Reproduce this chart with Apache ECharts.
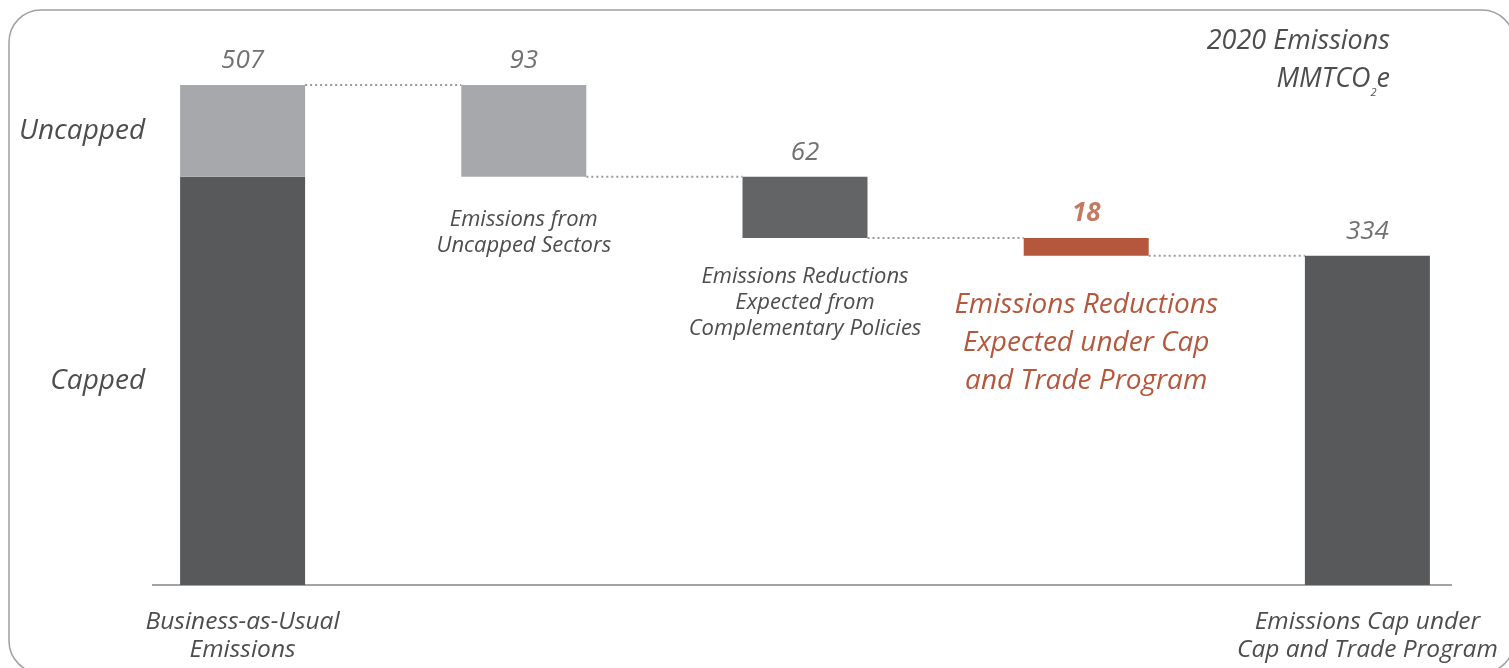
<!DOCTYPE html>
<html>
<head>
<meta charset="utf-8">
<script src="https://cdn.jsdelivr.net/npm/echarts@6/dist/echarts.min.js"></script>
<style>
html,body{margin:0;padding:0;background:#fff;}
#c{width:1509px;height:668px;}
</style>
</head>
<body>
<div id="c"></div>
<script>
var categories = ['Business-as-Usual\nEmissions', 'Emissions from\nUncapped Sectors', 'Emissions Reductions\nExpected from\nComplementary Policies', 'Emissions Reductions\nExpected under Cap\nand Trade Program', 'Emissions Cap under\nCap and Trade Program'];
var baseValues = [0, 414, 352, 334, 0];
var cappedValues = [414, '-', '-', '-', 334];
var uncappedValues = [93, 93, '-', '-', '-'];
var reductionValues = ['-', '-', 62, 18, '-'];
var valueLabels = ['507', '93', '62', '18', '334'];
var barTops = [507, 507, 414, 352, 334];
var connectorLevels = [507, 414, 352, 334];

var FONT = '"Open Sans", Lato, sans-serif';
var TXT = '#4d4d4f';
var DARK = '#58595b';
var DARK2 = '#636466';
var LIGHT = '#a7a8ab';
var RED = '#b5573c';

var chart = echarts.init(document.getElementById('c'));

var option = {
  animation: false,
  backgroundColor: '#fff',
  grid: {left: 102, right: 1, top: 52.5, bottom: 83},
  xAxis: {
    type: 'category',
    data: categories,
    axisLine: {show: false},
    axisTick: {show: false},
    axisLabel: {
      interval: 0,
      margin: 23,
      fontFamily: FONT, fontStyle: 'italic', fontSize: 24.5, lineHeight: 28, color: TXT,
      formatter: function (v, i) { return (i === 0 || i === 4) ? v : ''; }
    }
  },
  yAxis: {
    type: 'value', min: 0, max: 540,
    show: false,
    splitLine: {show: false}
  },
  graphic: [
    {type: 'rect', shape: {x: 9, y: 10, width: 1505, height: 663, r: 32}, style: {fill: 'none', stroke: '#a0a0a0', lineWidth: 1.5}, z: 0},
    {type: 'line', shape: {x1: 152, y1: 585, x2: 1452, y2: 585}, style: {stroke: '#a3a3a3', lineWidth: 2}, z: 1},
    {type: 'text', x: 1390, y: 22, z: 10,
      style: {
        text: '2020 Emissions\nMMTCO{s|2}e',
        align: 'right',
        verticalAlign: 'top',
        font: 'italic 27px ' + FONT,
        fill: TXT,
        lineHeight: 38,
        rich: {s: {fontSize: 11, fontStyle: 'italic', fontFamily: FONT, fill: TXT, verticalAlign: 'bottom', lineHeight: 38, padding: [3, 0, 0, 0]}}
      }
    }
  ],
  series: [
    {
      name: 'base', type: 'bar', stack: 'w', barWidth: 125,
      itemStyle: {color: 'transparent'},
      data: baseValues.map(function (v, i) {
        var d = {value: v};
        if (i === 1 || i === 2) {
          d.label = {show: true, position: 'insideTop', distance: i === 1 ? 30 : 26,
            formatter: categories[i], fontFamily: FONT, fontStyle: 'italic', fontSize: 22, lineHeight: 26, color: TXT};
        } else if (i === 3) {
          d.label = {show: true, position: 'insideTop', distance: 30,
            formatter: categories[i], fontFamily: FONT, fontStyle: 'italic', fontSize: 28, lineHeight: 38, color: RED};
        }
        return d;
      }),
      z: 2
    },
    {
      name: 'Capped', type: 'bar', stack: 'w', barWidth: 125,
      itemStyle: {color: DARK},
      data: cappedValues.map(function (v, i) {
        var d = {value: v};
        if (i === 0) d.label = {show: true, position: 'left', distance: 35, formatter: 'Capped',
          fontFamily: FONT, fontStyle: 'italic', fontSize: 28, color: TXT};
        return d;
      })
    },
    {
      name: 'Uncapped', type: 'bar', stack: 'w', barWidth: 125,
      itemStyle: {color: LIGHT},
      data: uncappedValues.map(function (v, i) {
        var d = {value: v};
        if (i === 0) d.label = {show: true, position: 'left', distance: 35, formatter: 'Uncapped',
          fontFamily: FONT, fontStyle: 'italic', fontSize: 28, color: TXT};
        return d;
      })
    },
    {
      name: 'Reduction', type: 'bar', stack: 'w', barWidth: 125,
      data: reductionValues.map(function (v, i) {
        return {value: v, itemStyle: {color: i === 3 ? RED : DARK2}};
      })
    },
    {
      name: 'values', type: 'scatter', symbolSize: 0, silent: true,
      data: barTops.map(function (v, i) {
        return {
          value: [i, v],
          label: {
            show: true, position: 'top', distance: 11,
            formatter: valueLabels[i],
            fontFamily: FONT, fontStyle: 'italic', fontSize: 26,
            fontWeight: i === 3 ? 'bold' : 'normal',
            color: i === 3 ? RED : TXT
          }
        };
      }),
      z: 5
    },
    {
      name: 'connectors', type: 'custom', silent: true,
      data: connectorLevels.map(function (v, i) { return [i, v]; }),
      renderItem: function (params, api) {
        var i = api.value(0), y = api.value(1);
        var a = api.coord([i, y]);
        var b = api.coord([i + 1, y]);
        var half = 62.5;
        return {
          type: 'line',
          shape: {x1: a[0] + half, y1: a[1], x2: b[0] - half, y2: b[1]},
          style: {stroke: '#9a9a9a', lineWidth: 2, lineDash: [2, 3]}
        };
      },
      z: 3
    }
  ]
};
chart.setOption(option);
</script>
</body>
</html>
